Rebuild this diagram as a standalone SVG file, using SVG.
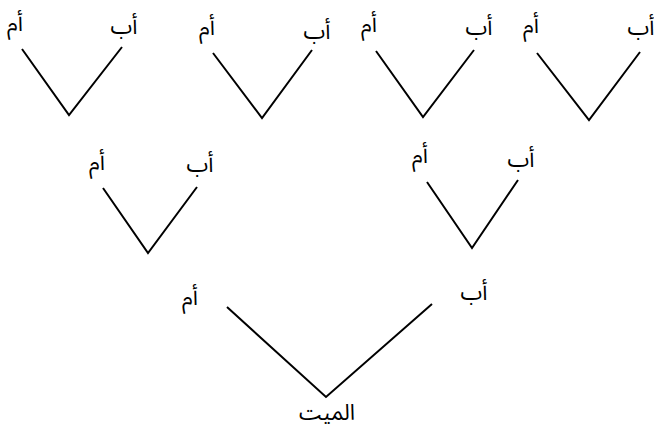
<svg xmlns="http://www.w3.org/2000/svg" width="654" height="437" viewBox="0 0 654 437">
<style>
.t{font-family:"Noto Sans Arabic","Noto Naskh Arabic","DejaVu Sans","Liberation Sans",sans-serif;font-size:22px;fill:#000;text-anchor:middle}
.c{fill:none;stroke:#000;stroke-width:2}
</style>
<rect width="654" height="437" fill="#fff"/>
<g id="connectors">
<polyline class="c" points="22,49 69,115 122,47"/>
<polyline class="c" points="213,53 262,118 312,50"/>
<polyline class="c" points="376,51 423,117 474,50"/>
<polyline class="c" points="537,53 589,120 640,52"/>
<polyline class="c" points="103,188 148,253 197,187"/>
<polyline class="c" points="427,182 472,248 518,180"/>
<polyline class="c" points="227,307 326,397 432,304"/>
</g>
<g id="g1m"><text class="t" x="15" y="31">أم</text></g>
<g id="g1f"><text class="t" x="124" y="34">أب</text></g>
<g id="g2m"><text class="t" x="207" y="35">أم</text></g>
<g id="g2f"><text class="t" x="317" y="39">أب</text></g>
<g id="g3m"><text class="t" x="369" y="32">أم</text></g>
<g id="g3f"><text class="t" x="479" y="35">أب</text></g>
<g id="g4m"><text class="t" x="531" y="33">أم</text></g>
<g id="g4f"><text class="t" x="641" y="35">أب</text></g>
<g id="m1m"><text class="t" x="97" y="170">أم</text></g>
<g id="m1f"><text class="t" x="200" y="172">أب</text></g>
<g id="m2m"><text class="t" x="420" y="163">أم</text></g>
<g id="m2f"><text class="t" x="521" y="167">أب</text></g>
<g id="bm"><text class="t" x="190" y="305">أم</text></g>
<g id="bf"><text class="t" x="474" y="300">أب</text></g>
<g id="dead"><text class="t" x="327" y="420">الميت</text></g>
</svg>
